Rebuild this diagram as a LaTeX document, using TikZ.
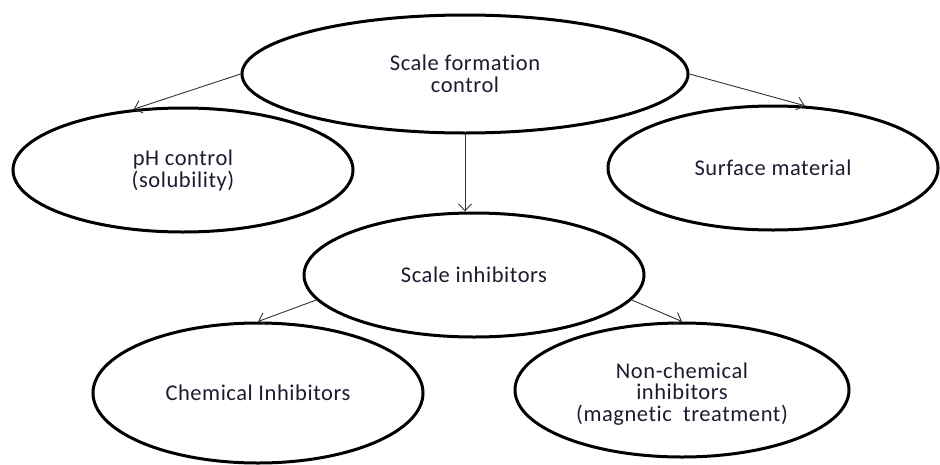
\documentclass[tikz,border=0pt]{standalone}
\usepackage{fontspec}
\setmainfont{Carlito}[Ligatures=NoCommon,LetterSpace=2.5]
\usetikzlibrary{shapes.geometric,arrows.meta}
\definecolor{txt}{HTML}{1C1C30}
\tikzset{
  oval/.style={ellipse, draw=black, line width=3pt, inner sep=0pt, align=center,
    text=txt, font=\fontsize{22.5}{22}\selectfont},
  arr/.style={draw=black!80, line width=0.9pt, -{Straight Barb[length=7pt,width=13pt]}}
}
\begin{document}
\begin{tikzpicture}[x=1pt,y=-1pt]
\useasboundingbox (0,0) rectangle (940,464);
\node[oval, minimum width=446pt, minimum height=118pt] (top) at (465,74) {Scale formation\\control};
\node[oval, minimum width=340pt, minimum height=124pt] (ph) at (183,170) {pH control\\(solubility)};
\node[oval, minimum width=330pt, minimum height=124pt] (surf) at (773,168) {Surface material};
\node[oval, minimum width=340pt, minimum height=124pt] (si) at (474,275) {Scale inhibitors};
\node[oval, minimum width=330pt, minimum height=140pt] (chem) at (258,393) {Chemical Inhibitors};
\node[oval, minimum width=334pt, minimum height=134pt] (nonchem) at (682,390) {};
\node[text=txt, font=\fontsize{22.5}{21.5}\selectfont, align=center, inner sep=0pt] (nctext) at (682,394) {Non-chemical\\inhibitors\\(magnetic\ \ treatment)};
\draw[arr] (top.west) -- (ph.129);
\draw[arr] (top.east) -- (surf.63);
\draw[arr] (top.south) -- (top.south |- si.north);
\draw[arr] (si.189) -- (chem.north);
\draw[arr] (si.351) -- (nonchem.north);
\end{tikzpicture}
\end{document}
